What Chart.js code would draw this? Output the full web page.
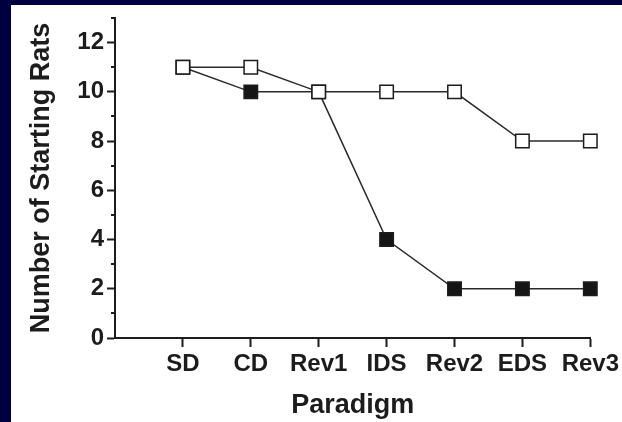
<!DOCTYPE html>
<html>
<head>
<meta charset="utf-8">
<script src="https://cdn.jsdelivr.net/npm/chart.js@4.4.1/dist/chart.umd.min.js"></script>
<style>
    html, body { margin: 0; padding: 0; background: #000040; }
    body { width: 622px; height: 422px; position: relative; overflow: hidden; }
    #wrap { position: absolute; left: 11px; top: 5px; width: 611px; height: 417px; background: #fff; }
</style>
</head>
<body>
<div id="wrap"><canvas id="ratsChart"></canvas></div>
<script>
// Данные с рисунка
const paradigms = ['SD', 'CD', 'Rev1', 'IDS', 'Rev2', 'EDS', 'Rev3'];
const openRats = [11, 11, 10, 10, 10, 8, 8];
const filledRats = [11, 10, 10, 4, 2, 2, 2];
const yTickLabels = [0, 2, 4, 6, 8, 10, 12];

const ink = '#1c1c1c';
const fontName = "'Liberation Sans', Arial, sans-serif";

function toPoints(values) {
    return values.map((v, i) => ({ x: i + 1, y: v }));
}

// короткие промежуточные риски на оси Y
const minorTicks = {
    id: 'minorTicks',
    afterDraw(chart) {
        const y = chart.scales.y;
        const ctx = chart.ctx;
        ctx.save();
        ctx.strokeStyle = ink;
        ctx.lineWidth = 2;
        for (let v = y.min; v <= y.max; v++) {
            if (yTickLabels.includes(v)) continue;
            const py = Math.round(y.getPixelForValue(v));
            ctx.beginPath();
            ctx.moveTo(y.right - 4, py);
            ctx.lineTo(y.right, py);
            ctx.stroke();
        }
        ctx.restore();
    }
};

const data = {
    datasets: [{
        label: 'open',
        data: toPoints(openRats),
        borderColor: '#2a2a2a',
        borderWidth: 1.5,
        pointStyle: 'rect',
        pointRadius: 9.5,
        pointBorderWidth: 1.5,
        pointBorderColor: ink,
        pointBackgroundColor: '#ffffff',
        clip: false
    }, {
        label: 'filled',
        data: toPoints(filledRats),
        borderColor: '#2a2a2a',
        borderWidth: 1.5,
        pointStyle: 'rect',
        pointRadius: 9.5,
        pointBorderWidth: 1.5,
        pointBorderColor: ink,
        pointBackgroundColor: '#151515',
        clip: false
    }]
};

const config = {
    type: 'line',
    data: data,
    options: {
        responsive: true,
        maintainAspectRatio: false,
        animation: false,
        layout: { padding: { top: 13, right: 0, left: 0, bottom: 0 } },
        plugins: {
            legend: { display: false },
            tooltip: { enabled: false }
        },
        scales: {
            x: {
                type: 'linear',
                min: 0,
                max: 7,
                afterFit(scale) { scale.height = 84; },
                border: { display: true, color: ink, width: 2 },
                grid: {
                    drawOnChartArea: false,
                    tickLength: 9,
                    tickWidth: 2,
                    tickColor: ctx => ctx.tick && ctx.tick.value === 0 ? 'rgba(0,0,0,0)' : ink
                },
                ticks: {
                    stepSize: 1,
                    autoSkip: false,
                    maxRotation: 0,
                    padding: 3,
                    color: ink,
                    font: { family: fontName, size: 24, weight: 'bold' },
                    callback: v => paradigms[v - 1] || ''
                },
                title: {
                    display: true,
                    text: 'Paradigm',
                    color: ink,
                    font: { family: fontName, size: 27, weight: 'bold' },
                    padding: { top: 2, bottom: 0 }
                }
            },
            y: {
                min: 0,
                max: 13,
                afterFit(scale) {
                    scale.width = 104;
                    scale.paddingTop = 0;
                    scale.paddingBottom = 0;
                },
                border: { display: true, color: ink, width: 2 },
                grid: {
                    drawOnChartArea: false,
                    tickLength: 8,
                    tickWidth: 2,
                    tickColor: ctx => ctx.tick && yTickLabels.includes(ctx.tick.value) ? ink : 'rgba(0,0,0,0)'
                },
                ticks: {
                    stepSize: 1,
                    autoSkip: false,
                    padding: 3,
                    color: ink,
                    font: { family: fontName, size: 24, weight: 'bold' },
                    callback: v => yTickLabels.includes(v) ? String(v) : ''
                },
                title: {
                    display: true,
                    text: 'Number of Starting Rats',
                    color: ink,
                    font: { family: fontName, size: 27, weight: 'bold' },
                    padding: { top: 14, bottom: 0 }
                }
            }
        }
    },
    plugins: [minorTicks]
};

const ctx = document.getElementById('ratsChart').getContext('2d');
new Chart(ctx, config);
</script>
</body>
</html>
